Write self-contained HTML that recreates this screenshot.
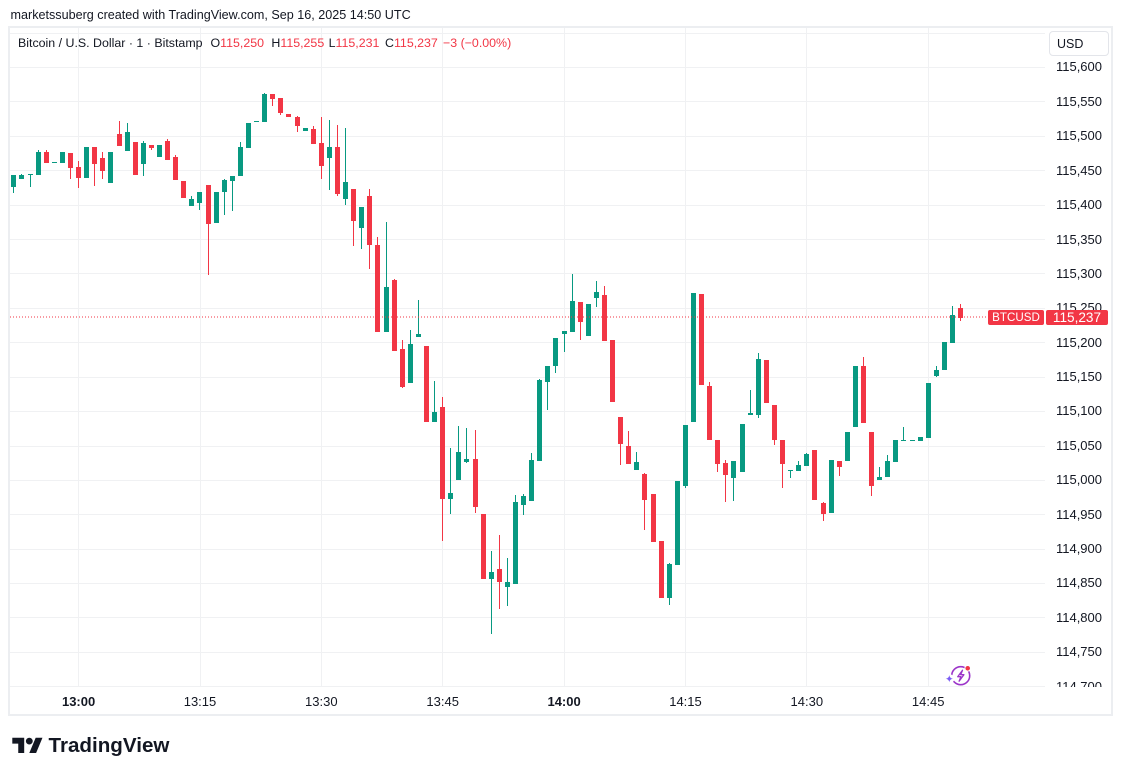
<!DOCTYPE html>
<html><head><meta charset="utf-8">
<style>
html,body{margin:0;padding:0;background:#fff;}
body{width:1123px;height:776px;position:relative;overflow:hidden;font-family:"Liberation Sans",Arial,sans-serif;color:#131722;}
.t{position:absolute;white-space:nowrap;}
.frame{position:absolute;left:8px;top:26px;width:1101px;height:686px;border:2px solid #eceef1;}
.pl{position:absolute;right:20px;font-size:13px;line-height:16px;text-align:right;}
.tl{position:absolute;top:694px;width:60px;margin-left:-30px;text-align:center;font-size:13px;line-height:16px;}
.r{color:#F23645;}
</style></head><body>
<div class="t" style="left:10.5px;top:7px;font-size:12.6px;line-height:16px;">marketssuberg created with TradingView.com, Sep 16, 2025 14:50 UTC</div>
<div class="frame"></div>

<svg width="1123" height="776" style="position:absolute;left:0;top:0" xmlns="http://www.w3.org/2000/svg">
<g fill="#f0f1f3">
<rect x="10" y="33" width="1035" height="1"/><rect x="10" y="67" width="1035" height="1"/><rect x="10" y="101" width="1035" height="1"/><rect x="10" y="136" width="1035" height="1"/><rect x="10" y="170" width="1035" height="1"/><rect x="10" y="205" width="1035" height="1"/><rect x="10" y="239" width="1035" height="1"/><rect x="10" y="273" width="1035" height="1"/><rect x="10" y="308" width="1035" height="1"/><rect x="10" y="342" width="1035" height="1"/><rect x="10" y="377" width="1035" height="1"/><rect x="10" y="411" width="1035" height="1"/><rect x="10" y="446" width="1035" height="1"/><rect x="10" y="480" width="1035" height="1"/><rect x="10" y="514" width="1035" height="1"/><rect x="10" y="549" width="1035" height="1"/><rect x="10" y="583" width="1035" height="1"/><rect x="10" y="617" width="1035" height="1"/><rect x="10" y="652" width="1035" height="1"/><rect x="10" y="686" width="1035" height="1"/>
<rect x="78" y="28" width="1" height="659"/><rect x="200" y="28" width="1" height="659"/><rect x="321" y="28" width="1" height="659"/><rect x="442" y="28" width="1" height="659"/><rect x="564" y="28" width="1" height="659"/><rect x="685" y="28" width="1" height="659"/><rect x="806" y="28" width="1" height="659"/><rect x="928" y="28" width="1" height="659"/>
</g>
<g fill="#089981">
<rect x="11" y="175" width="5" height="12"/><rect x="13" y="175" width="1" height="18"/>
<rect x="19" y="175" width="5" height="4"/><rect x="21" y="174" width="1" height="5"/>
<rect x="28" y="174" width="5" height="1"/><rect x="30" y="174" width="1" height="13"/>
<rect x="36" y="152" width="5" height="23"/><rect x="38" y="150" width="1" height="25"/>
<rect x="52" y="162" width="5" height="1"/>
<rect x="60" y="152" width="5" height="11"/>
<rect x="84" y="147" width="5" height="31"/>
<rect x="108" y="152" width="5" height="31"/>
<rect x="125" y="132" width="5" height="19"/><rect x="127" y="123" width="1" height="28"/>
<rect x="141" y="143" width="5" height="21"/><rect x="143" y="141" width="1" height="35"/>
<rect x="157" y="145" width="5" height="12"/>
<rect x="189" y="199" width="5" height="7"/><rect x="191" y="196" width="1" height="10"/>
<rect x="197" y="192" width="5" height="11"/><rect x="199" y="192" width="1" height="18"/>
<rect x="214" y="192" width="5" height="31"/>
<rect x="222" y="180" width="5" height="12"/><rect x="224" y="179" width="1" height="36"/>
<rect x="230" y="176" width="5" height="5"/><rect x="232" y="176" width="1" height="35"/>
<rect x="238" y="147" width="5" height="29"/><rect x="240" y="142" width="1" height="34"/>
<rect x="246" y="123" width="5" height="25"/>
<rect x="254" y="121" width="5" height="1"/>
<rect x="262" y="94" width="5" height="28"/><rect x="264" y="93" width="1" height="29"/>
<rect x="303" y="128" width="5" height="3"/>
<rect x="327" y="147" width="5" height="11"/><rect x="329" y="120" width="1" height="70"/>
<rect x="343" y="182" width="5" height="17"/><rect x="345" y="128" width="1" height="77"/>
<rect x="359" y="207" width="5" height="21"/><rect x="361" y="207" width="1" height="42"/>
<rect x="384" y="287" width="5" height="45"/><rect x="386" y="222" width="1" height="110"/>
<rect x="408" y="344" width="5" height="39"/><rect x="410" y="330" width="1" height="53"/>
<rect x="416" y="334" width="5" height="3"/><rect x="418" y="300" width="1" height="37"/>
<rect x="432" y="412" width="5" height="10"/><rect x="434" y="381" width="1" height="41"/>
<rect x="448" y="493" width="5" height="6"/><rect x="450" y="448" width="1" height="66"/>
<rect x="456" y="452" width="5" height="28"/><rect x="458" y="426" width="1" height="54"/>
<rect x="464" y="459" width="5" height="3"/><rect x="466" y="428" width="1" height="35"/>
<rect x="489" y="572" width="5" height="7"/><rect x="491" y="551" width="1" height="83"/>
<rect x="505" y="582" width="5" height="5"/><rect x="507" y="558" width="1" height="48"/>
<rect x="513" y="502" width="5" height="82"/><rect x="515" y="495" width="1" height="89"/>
<rect x="521" y="496" width="5" height="9"/><rect x="523" y="494" width="1" height="21"/>
<rect x="529" y="460" width="5" height="41"/><rect x="531" y="453" width="1" height="48"/>
<rect x="537" y="380" width="5" height="81"/><rect x="539" y="379" width="1" height="82"/>
<rect x="545" y="366" width="5" height="16"/><rect x="547" y="366" width="1" height="44"/>
<rect x="553" y="338" width="5" height="28"/><rect x="555" y="338" width="1" height="35"/>
<rect x="562" y="331" width="5" height="3"/><rect x="564" y="331" width="1" height="21"/>
<rect x="570" y="301" width="5" height="31"/><rect x="572" y="274" width="1" height="58"/>
<rect x="586" y="304" width="5" height="32"/>
<rect x="594" y="292" width="5" height="6"/><rect x="596" y="281" width="1" height="26"/>
<rect x="634" y="462" width="5" height="8"/><rect x="636" y="452" width="1" height="18"/>
<rect x="667" y="564" width="5" height="34"/><rect x="669" y="563" width="1" height="42"/>
<rect x="675" y="481" width="5" height="84"/>
<rect x="683" y="425" width="5" height="61"/><rect x="685" y="425" width="1" height="63"/>
<rect x="691" y="293" width="5" height="129"/>
<rect x="731" y="461" width="5" height="17"/><rect x="733" y="461" width="1" height="40"/>
<rect x="740" y="424" width="5" height="48"/>
<rect x="748" y="413" width="5" height="2"/><rect x="750" y="390" width="1" height="25"/>
<rect x="756" y="359" width="5" height="56"/><rect x="758" y="353" width="1" height="65"/>
<rect x="788" y="470" width="5" height="1"/><rect x="790" y="470" width="1" height="8"/>
<rect x="796" y="465" width="5" height="6"/><rect x="798" y="461" width="1" height="10"/>
<rect x="804" y="454" width="5" height="12"/><rect x="806" y="453" width="1" height="13"/>
<rect x="829" y="460" width="5" height="53"/>
<rect x="845" y="432" width="5" height="29"/>
<rect x="853" y="366" width="5" height="61"/>
<rect x="877" y="477" width="5" height="3"/><rect x="879" y="467" width="1" height="13"/>
<rect x="885" y="461" width="5" height="16"/><rect x="887" y="455" width="1" height="22"/>
<rect x="893" y="440" width="5" height="22"/>
<rect x="901" y="440" width="5" height="1"/><rect x="903" y="427" width="1" height="14"/>
<rect x="910" y="440" width="5" height="1"/>
<rect x="918" y="437" width="5" height="4"/>
<rect x="926" y="383" width="5" height="55"/>
<rect x="934" y="370" width="5" height="6"/><rect x="936" y="366" width="1" height="11"/>
<rect x="942" y="342" width="5" height="28"/>
<rect x="950" y="315" width="5" height="28"/><rect x="952" y="306" width="1" height="37"/>
</g>
<g fill="#F23645">
<rect x="44" y="152" width="5" height="11"/><rect x="46" y="150" width="1" height="13"/>
<rect x="68" y="153" width="5" height="15"/><rect x="70" y="153" width="1" height="26"/>
<rect x="76" y="167" width="5" height="11"/><rect x="78" y="161" width="1" height="27"/>
<rect x="92" y="147" width="5" height="17"/><rect x="94" y="147" width="1" height="39"/>
<rect x="100" y="158" width="5" height="13"/><rect x="102" y="152" width="1" height="27"/>
<rect x="117" y="134" width="5" height="12"/><rect x="119" y="121" width="1" height="25"/>
<rect x="133" y="142" width="5" height="33"/>
<rect x="149" y="145" width="5" height="3"/><rect x="151" y="145" width="1" height="5"/>
<rect x="165" y="141" width="5" height="19"/><rect x="167" y="139" width="1" height="21"/>
<rect x="173" y="157" width="5" height="23"/><rect x="175" y="155" width="1" height="25"/>
<rect x="181" y="181" width="5" height="17"/>
<rect x="206" y="185" width="5" height="39"/><rect x="208" y="185" width="1" height="90"/>
<rect x="270" y="94" width="5" height="5"/><rect x="272" y="94" width="1" height="12"/>
<rect x="278" y="98" width="5" height="15"/><rect x="280" y="98" width="1" height="17"/>
<rect x="286" y="114" width="5" height="3"/>
<rect x="295" y="117" width="5" height="9"/><rect x="297" y="116" width="1" height="16"/>
<rect x="311" y="129" width="5" height="15"/><rect x="313" y="126" width="1" height="18"/>
<rect x="319" y="143" width="5" height="23"/><rect x="321" y="117" width="1" height="62"/>
<rect x="335" y="147" width="5" height="47"/><rect x="337" y="125" width="1" height="71"/>
<rect x="351" y="189" width="5" height="32"/><rect x="353" y="189" width="1" height="57"/>
<rect x="367" y="196" width="5" height="49"/><rect x="369" y="189" width="1" height="80"/>
<rect x="375" y="245" width="5" height="87"/><rect x="377" y="237" width="1" height="95"/>
<rect x="392" y="280" width="5" height="71"/><rect x="394" y="279" width="1" height="72"/>
<rect x="400" y="349" width="5" height="38"/><rect x="402" y="340" width="1" height="48"/>
<rect x="424" y="346" width="5" height="76"/>
<rect x="440" y="407" width="5" height="92"/><rect x="442" y="397" width="1" height="144"/>
<rect x="473" y="459" width="5" height="48"/><rect x="475" y="430" width="1" height="83"/>
<rect x="481" y="514" width="5" height="65"/>
<rect x="497" y="569" width="5" height="13"/><rect x="499" y="535" width="1" height="74"/>
<rect x="578" y="302" width="5" height="20"/><rect x="580" y="302" width="1" height="38"/>
<rect x="602" y="295" width="5" height="46"/><rect x="604" y="286" width="1" height="55"/>
<rect x="610" y="340" width="5" height="62"/>
<rect x="618" y="417" width="5" height="27"/><rect x="620" y="417" width="1" height="48"/>
<rect x="626" y="446" width="5" height="18"/><rect x="628" y="431" width="1" height="33"/>
<rect x="642" y="474" width="5" height="26"/><rect x="644" y="473" width="1" height="57"/>
<rect x="651" y="494" width="5" height="48"/>
<rect x="659" y="541" width="5" height="57"/>
<rect x="699" y="294" width="5" height="91"/>
<rect x="707" y="386" width="5" height="54"/><rect x="709" y="382" width="1" height="58"/>
<rect x="715" y="440" width="5" height="24"/><rect x="717" y="440" width="1" height="32"/>
<rect x="723" y="463" width="5" height="12"/><rect x="725" y="460" width="1" height="42"/>
<rect x="764" y="360" width="5" height="43"/>
<rect x="772" y="405" width="5" height="35"/><rect x="774" y="405" width="1" height="40"/>
<rect x="780" y="440" width="5" height="24"/><rect x="782" y="440" width="1" height="48"/>
<rect x="812" y="450" width="5" height="50"/>
<rect x="821" y="503" width="5" height="11"/><rect x="823" y="502" width="1" height="19"/>
<rect x="837" y="461" width="5" height="6"/><rect x="839" y="461" width="1" height="15"/>
<rect x="861" y="366" width="5" height="57"/><rect x="863" y="357" width="1" height="66"/>
<rect x="869" y="432" width="5" height="54"/><rect x="871" y="432" width="1" height="64"/>
<rect x="958" y="308" width="5" height="10"/><rect x="960" y="304" width="1" height="17"/>
</g>
<line x1="10" y1="317" x2="988" y2="317" stroke="#F23645" stroke-width="1" stroke-dasharray="1 2"/>
<!-- spark icon -->
<g transform="translate(960.7,675.7)">
<circle cx="0" cy="0" r="9" fill="none" stroke="#9c35c9" stroke-width="1.6"/>
<circle cx="-10.5" cy="3" r="4.2" fill="#fff"/>
<path d="M1.8,-5.5 L-3,1 L0.2,1 L-1.6,5.5 L3.2,-1 L0,-1 Z" fill="none" stroke="#9c35c9" stroke-width="1.3" stroke-linejoin="round"/>
<path d="M-11.4,-0.6 Q-11,2.6 -7.8,3 Q-11,3.4 -11.4,6.6 Q-11.8,3.4 -15,3 Q-11.8,2.6 -11.4,-0.6 Z" fill="#7b5cf5"/>
<circle cx="7" cy="-7.4" r="2.8" fill="#F23645" stroke="#fff" stroke-width="1"/>
</g>
<!-- TradingView logo -->
<g transform="translate(12.3,734.3) scale(0.85)" fill="#131722">
<path d="M14 22H7V11H0V4h14v18zM28 22h-8l7.5-18h8L28 22z"/>
<circle cx="20" cy="8" r="4"/>
</g>
</svg>

<!-- header -->
<div class="t" style="left:18px;top:35px;font-size:12.4px;line-height:16px;">Bitcoin / U.S. Dollar · 1 · Bitstamp</div>
<div class="t" style="left:210.5px;top:35px;font-size:12.4px;line-height:16px;">O<span class="r">115,250</span></div>
<div class="t" style="left:271.4px;top:35px;font-size:12.4px;line-height:16px;">H<span class="r">115,255</span></div>
<div class="t" style="left:328.6px;top:35px;font-size:12.4px;line-height:16px;">L<span class="r">115,231</span></div>
<div class="t" style="left:385px;top:35px;font-size:12.4px;line-height:16px;">C<span class="r">115,237</span></div>
<div class="t r" style="left:443px;top:35px;font-size:12.4px;line-height:16px;">−3 (−0.00%)</div>

<!-- price axis -->
<div style="position:absolute;left:1046px;top:28px;width:76px;height:659px;overflow:hidden;">
<div style="position:relative;top:-28px;">
<div class="pl" style="top:59px">115,600</div>
<div class="pl" style="top:93.5px">115,550</div>
<div class="pl" style="top:128px">115,500</div>
<div class="pl" style="top:162.5px">115,450</div>
<div class="pl" style="top:197px">115,400</div>
<div class="pl" style="top:231.5px">115,350</div>
<div class="pl" style="top:266px">115,300</div>
<div class="pl" style="top:300.2px">115,250</div>
<div class="pl" style="top:334.6px">115,200</div>
<div class="pl" style="top:369px">115,150</div>
<div class="pl" style="top:403.4px">115,100</div>
<div class="pl" style="top:437.8px">115,050</div>
<div class="pl" style="top:472.2px">115,000</div>
<div class="pl" style="top:506.6px">114,950</div>
<div class="pl" style="top:541px">114,900</div>
<div class="pl" style="top:575.4px">114,850</div>
<div class="pl" style="top:609.8px">114,800</div>
<div class="pl" style="top:644.2px">114,750</div>
<div class="pl" style="top:678.6px">114,700</div>
</div></div>

<div style="position:absolute;left:1049px;top:31px;width:58px;height:23px;border:1px solid #e3e5ea;border-radius:4px;background:#fff;"></div>
<div class="t" style="left:1057px;top:35.5px;font-size:12.5px;line-height:16px;">USD</div>

<div style="position:absolute;left:988px;top:310px;width:56px;height:15px;background:#F23645;border-radius:2px;color:#fff;font-size:11.6px;line-height:15px;text-align:center;">BTCUSD</div>
<div style="position:absolute;left:1046px;top:310px;width:62px;height:15px;background:#F23645;border-radius:2px;color:#fff;font-size:13.6px;line-height:15px;text-align:center;">115,237</div>

<!-- time axis -->
<div class="tl" style="left:78.6px;font-weight:bold;">13:00</div>
<div class="tl" style="left:200px;">13:15</div>
<div class="tl" style="left:321.3px;">13:30</div>
<div class="tl" style="left:442.7px;">13:45</div>
<div class="tl" style="left:564.1px;font-weight:bold;">14:00</div>
<div class="tl" style="left:685.5px;">14:15</div>
<div class="tl" style="left:806.8px;">14:30</div>
<div class="tl" style="left:928.2px;">14:45</div>

<div class="t" style="left:48.5px;top:734px;font-size:20.6px;line-height:24px;font-weight:bold;">TradingView</div>
</body></html>
